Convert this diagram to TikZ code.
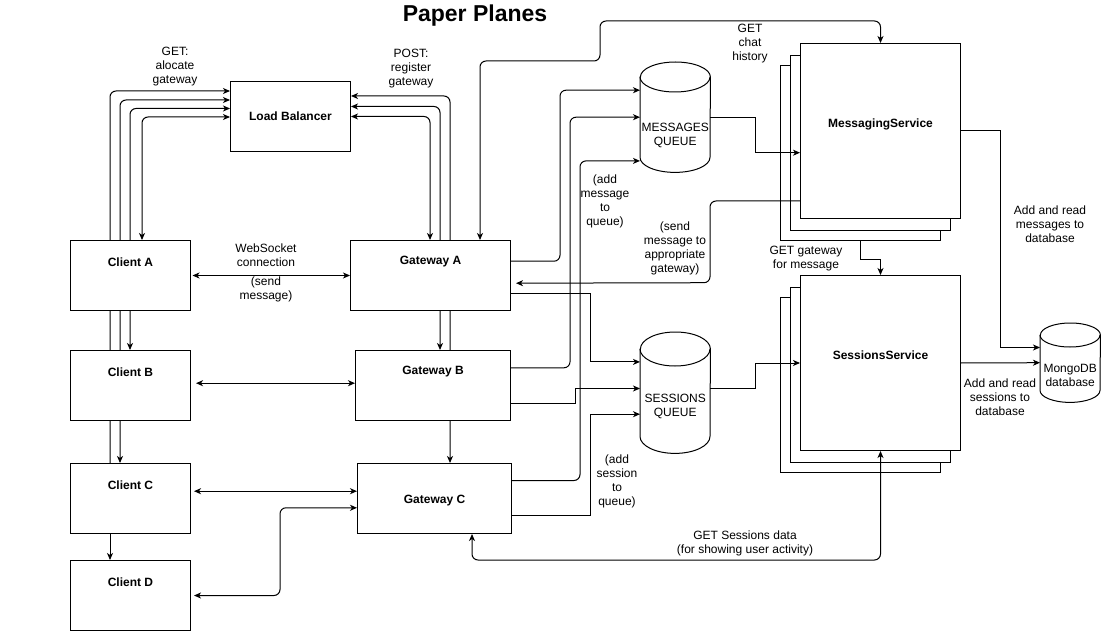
\documentclass[tikz,border=0pt]{standalone}
\usepackage{fontspec}
\setmainfont{Liberation Sans}
\usetikzlibrary{arrows.meta,calc}
\pgfdeclarelayer{bg}
\pgfsetlayers{bg,main}
\newcommand{\drawcyl}[3]{%
 \draw[ln, fill=white] ([yshift=-#2]#1.north west) -- ([yshift=#2]#1.south west)
   arc[start angle=180, end angle=360, x radius=#3, y radius=#2]
   -- ([yshift=-#2]#1.north east)
   arc[start angle=0, end angle=180, x radius=#3, y radius=#2] -- cycle;
 \draw[ln] ([yshift=-#2]#1.north west) arc[start angle=180, end angle=360, x radius=#3, y radius=#2];}
\begin{document}
\begin{tikzpicture}[x=1pt,y=-1pt,
  >={Stealth[length=7pt,width=6pt,inset=2pt]},
  ln/.style={line width=1pt},
  bx/.style={draw, line width=1pt, fill=white, inner sep=0pt, anchor=north west, font=\fontsize{12}{14}\selectfont\bfseries},
  cylnode/.style={inner sep=0pt, anchor=north west},
  txt/.style={font=\fontsize{12}{14}\selectfont, align=center, inner sep=0pt},
  btxt/.style={font=\fontsize{12}{14}\selectfont\bfseries, align=center, inner sep=0pt},
  arr/.style={ln, ->},
  biarr/.style={ln, <->},
  rc/.style={rounded corners=6pt}]
\useasboundingbox (0,0) rectangle (1101,631);

% title
\node[font=\fontsize{23}{27}\selectfont\bfseries, inner sep=0pt] (title) at (475,16) {Paper Planes};

% boxes
\node[bx, minimum width=120pt, minimum height=70pt] (lb) at (230,81) {Load Balancer};
\node[bx, minimum width=120pt, minimum height=70pt] (ca) at (70,240) {};
\node[bx, minimum width=120pt, minimum height=70pt] (cb) at (70,350) {};
\node[bx, minimum width=120pt, minimum height=70pt] (cc) at (70,463) {};
\node[bx, minimum width=120pt, minimum height=70pt] (cd) at (70,560) {};
\node[bx, minimum width=160pt, minimum height=70pt] (ga) at (350,240) {};
\node[bx, minimum width=155pt, minimum height=70pt] (gb) at (355,350) {};
\node[bx, minimum width=154pt, minimum height=70pt] (gc) at (357,463) {};
\node[btxt] (caL) at ([yshift=-22pt]ca.north) {Client A};
\node[btxt] (cbL) at ([yshift=-22pt]cb.north) {Client B};
\node[btxt] (ccL) at ([yshift=-22pt]cc.north) {Client C};
\node[btxt] (cdL) at ([yshift=-22pt]cd.north) {Client D};
\node[btxt] (gaL) at ([yshift=-22pt]ga.north) {Gateway A};
\node[btxt] (gbL) at ([yshift=-22pt]gb.north) {Gateway B};
\node[btxt] (gcL) at ([yshift=-2pt]gc.center) {Gateway C};

% service stacks
\node[bx, minimum width=160pt, minimum height=175pt] (ms3) at (780,65) {};
\node[bx, minimum width=160pt, minimum height=175pt] (ms2) at (790,55) {};
\node[bx, minimum width=160pt, minimum height=175pt] (ms) at (800,43) {};
\node[btxt] (msL) at ([yshift=7pt]ms.center) {MessagingService};
\node[bx, minimum width=160pt, minimum height=175pt] (ss3) at (780,297) {};
\node[bx, minimum width=160pt, minimum height=175pt] (ss2) at (790,287) {};
\node[bx, minimum width=160pt, minimum height=175pt] (ss) at (800,275) {};
\node[btxt] (ssL) at ([yshift=7.5pt]ss.center) {SessionsService};

% cylinders
\node[cylnode, minimum width=70pt, minimum height=110pt] (mq) at (640,62) {};
\node[cylnode, minimum width=70pt, minimum height=121pt] (sq) at (640,332) {};
\node[cylnode, minimum width=60pt, minimum height=79pt] (mongo) at (1040,323) {};
\drawcyl{mq}{15pt}{35pt}
\drawcyl{sq}{17pt}{35pt}
\drawcyl{mongo}{12pt}{30pt}
\node[txt] (mqL) at ([yshift=-18.5pt]mq.center) {MESSAGES\\QUEUE};
\node[txt] (sqL) at ([yshift=-14pt]sq.center) {SESSIONS\\QUEUE};
\node[txt] (mongoL) at ([yshift=-13pt]mongo.center) {MongoDB\\database};

% edge labels
\node[txt] (l1) at (175,67) {GET:\\alocate\\gateway};
\node[txt] (l2) at (411,69) {POST:\\register\\gateway};
\node[txt] (l3) at (266,255) {WebSocket\\connection};
\node[txt] (l4) at (266,289) {(send\\message)};
\node[txt] (l5) at (750,44) {GET\\chat\\history};
\node[txt] (l6) at (605,201) {(add\\message\\to\\queue)};
\node[txt] (l7) at (675,248) {(send\\message to\\appropriate\\gateway)};
\node[txt] (l8) at (806,259) {GET gateway\\for message};
\node[txt] (l9) at (1050,224) {Add and read\\messages to\\database};
\node[txt] (l10) at (1000,397) {Add and read\\sessions to\\database};
\node[txt] (l11) at (617,481) {(add\\session\\to\\queue)};
\node[txt] (l12) at (745,543) {GET Sessions data\\(for showing user activity)};

% edges behind boxes
\begin{pgfonlayer}{bg}
\draw[arr, rc] ([xshift=40pt]cc.north west) |- ([yshift=-10pt]lb.north west);
\draw[biarr, rc] ([yshift=-19pt]lb.north west) -| ([xshift=50pt]cc.north west);
\draw[biarr, rc] ([yshift=-27.5pt]lb.north west) -| ([xshift=60pt]cb.north west);
\draw[biarr, rc] ([yshift=-36pt]lb.north west) -| ([xshift=72pt]ca.north west);
\draw[biarr, rc] ([yshift=-15pt]lb.north east) -| ([xshift=93pt]gc.north west);
\draw[biarr, rc] ([yshift=-25.5pt]lb.north east) -| ([xshift=85pt]gb.north west);
\draw[biarr, rc] ([yshift=-35.5pt]lb.north east) -| ([xshift=80pt]ga.north west);
\end{pgfonlayer}

\draw[arr] ([xshift=40pt]cc.south west) -- ([xshift=40pt]cd.north west);

% client <-> gateway
\draw[biarr] ([xshift=1.5pt]ca.east) -- (ga.west);
\draw[biarr] ([xshift=5pt,yshift=2.3pt]cb.east) -- ([yshift=2.3pt]gb.west);
\draw[biarr] ([xshift=3pt,yshift=7.3pt]cc.east) -- ([yshift=7.3pt]gc.west);
\draw[biarr, rc] ([xshift=3pt]cd.east) -| ([xshift=-77pt,yshift=-9.3pt]gc.west) -- ([yshift=-9.3pt]gc.west);

% gateways -> messages queue
\draw[arr, rc] ([yshift=14.3pt]ga.east) -| ([xshift=-80pt,yshift=27pt]mq.west) -- ([yshift=27pt]mq.west);
\draw[arr, rc] ([yshift=17.7pt]gb.east) -| ([xshift=-70pt]mq.west) -- (mq.west);
\draw[arr, rc] ([yshift=18pt]gc.east) -| ([xshift=-60pt,yshift=-43.7pt]mq.west) -- ([yshift=-43.7pt]mq.west);

% gateways -> sessions queue
\draw[arr] ([yshift=-17.7pt]ga.east) -| ([xshift=-50pt,yshift=30.8pt]sq.west) -- ([yshift=30.8pt]sq.west);
\draw[arr] ([yshift=-18.3pt]gb.east) -| ([xshift=-65pt,yshift=4.2pt]sq.west) -- ([yshift=4.2pt]sq.west);
\draw[arr] ([yshift=-17pt]gc.east) -| ([xshift=-50pt,yshift=-21.5pt]sq.west) -- ([yshift=-21.5pt]sq.west);

% queues -> services
\draw[arr] (mq.east) -| ([xshift=-45pt,yshift=-21.7pt]ms.west) -- ([yshift=-21.7pt]ms.west);
\draw[arr] ([yshift=4pt]sq.east) -| ([xshift=-45pt]ss.west) -- (ss.west);

% messaging -> gateway A
\draw[arr, rc] ([yshift=-70pt]ms.west) -| (710,282.7) -- ([xshift=5pt,yshift=-7.7pt]ga.east);

% GET chat history
\draw[biarr, rc] ([xshift=130pt]ga.north west) |- (600,61) |- ([yshift=22pt]ms.north) -- (ms.north);

% GET gateway for message
\draw[arr] ([xshift=80pt]ms3.south west) |- ([yshift=15pt]ss.north) -- (ss.north);

% GET sessions data
\draw[biarr, rc] ([xshift=115pt]gc.south west) |- ([yshift=-109pt]ss.south) -- (ss.south);

% services -> mongo
\draw[arr] (ms.east) -| ([xshift=-40pt,yshift=15.2pt]mongo.west) -- ([yshift=15.2pt]mongo.west);
\draw[arr] (ss.east) -- (mongo.west);
\end{tikzpicture}
\end{document}
